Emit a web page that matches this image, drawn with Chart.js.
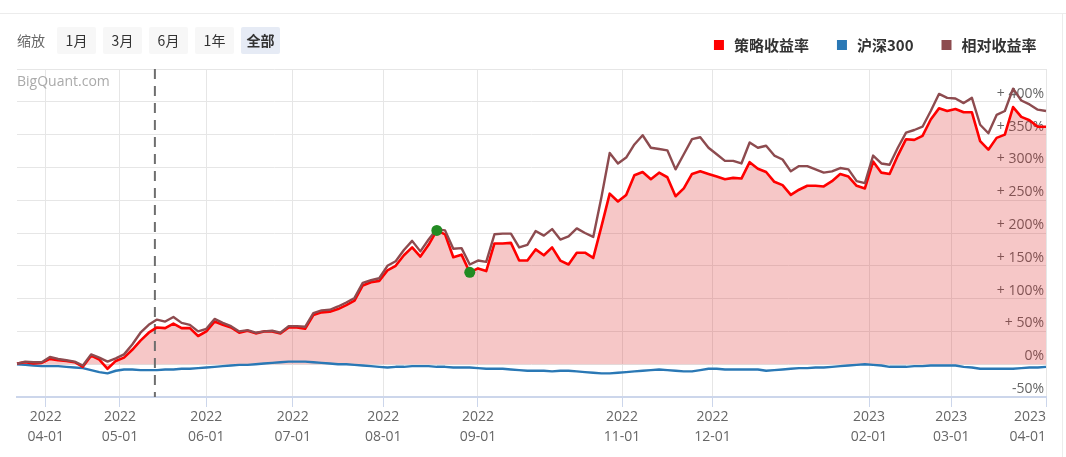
<!DOCTYPE html>
<html><head><meta charset="utf-8">
<script src="https://cdn.jsdelivr.net/npm/chart.js@4.4.1/dist/chart.umd.min.js"></script>
<style>
html,body{margin:0;padding:0;background:#fff;width:1066px;height:457px;overflow:hidden;font-family:'Noto Sans CJK SC',sans-serif;}
#wrap{position:absolute;left:0;top:0;width:1062px;height:457px;}
#topline{position:absolute;left:0;top:13px;width:1066px;height:0;border-top:1px solid #ececec;}
#rightline{position:absolute;left:1062px;top:13px;width:0;height:444px;border-left:1px solid #ececec;}
.lbl{position:absolute;left:17px;top:29px;font-size:14px;color:#666;line-height:22px;}
.btn{position:absolute;top:27px;width:39px;height:27px;line-height:27px;text-align:center;background:#f7f7f7;color:#333;font-size:14px;border-radius:2px;}
.btn.on{background:#e6ebf5;font-weight:bold;}
#wm{position:absolute;left:17px;top:72px;font-family:'Open Sans',sans-serif;font-size:14px;color:#aaa;line-height:18px;}
</style></head>
<body>
<div id="topline"></div><div id="rightline"></div>
<div id="wrap"><canvas id="c" width="1062" height="457"></canvas></div>
<div class="lbl">缩放</div>
<div class="btn" style="left:57px">1月</div>
<div class="btn" style="left:103px">3月</div>
<div class="btn" style="left:149px">6月</div>
<div class="btn" style="left:195px">1年</div>
<div class="btn on" style="left:241px">全部</div>
<div id="wm">BigQuant.com</div>
<script>
const seriesNames = ['策略收益率', '沪深300', '相对收益率'];
const dates = [
'2022-03-23','2022-03-25','2022-03-29','2022-03-31',
'2022-04-06','2022-04-08','2022-04-12','2022-04-14','2022-04-18','2022-04-20','2022-04-22','2022-04-26','2022-04-28',
'2022-05-05','2022-05-09','2022-05-11','2022-05-13','2022-05-17','2022-05-19','2022-05-23','2022-05-25','2022-05-27','2022-05-31',
'2022-06-01','2022-06-06','2022-06-08','2022-06-10','2022-06-14','2022-06-16','2022-06-20','2022-06-22','2022-06-24','2022-06-28','2022-06-30',
'2022-07-04','2022-07-06','2022-07-08','2022-07-11','2022-07-13','2022-07-15','2022-07-19','2022-07-21','2022-07-25','2022-07-27','2022-07-29',
'2022-08-02','2022-08-04','2022-08-08','2022-08-10','2022-08-12','2022-08-16','2022-08-18','2022-08-22','2022-08-24','2022-08-26','2022-08-30',
'2022-09-01','2022-09-05','2022-09-07','2022-09-09','2022-09-14','2022-09-16','2022-09-20','2022-09-22','2022-09-26','2022-09-29',
'2022-10-11','2022-10-13','2022-10-17','2022-10-19','2022-10-21','2022-10-25','2022-10-27','2022-10-31',
'2022-11-02','2022-11-04','2022-11-08','2022-11-10','2022-11-14','2022-11-16','2022-11-18','2022-11-22','2022-11-24','2022-11-28','2022-11-30',
'2022-12-02','2022-12-06','2022-12-08','2022-12-12','2022-12-14','2022-12-16','2022-12-20','2022-12-22','2022-12-26','2022-12-28','2022-12-30',
'2023-01-04','2023-01-06','2023-01-10','2023-01-12','2023-01-16','2023-01-18','2023-01-20','2023-01-31',
'2023-02-02','2023-02-06','2023-02-08','2023-02-10','2023-02-14','2023-02-16','2023-02-20','2023-02-22','2023-02-24','2023-02-28',
'2023-03-02','2023-03-06','2023-03-08','2023-03-10','2023-03-14','2023-03-16','2023-03-20','2023-03-22','2023-03-24','2023-03-28','2023-03-30',
'2023-04-03'];
// 策略收益率 (%)
const strategyReturn = [
1,3,1,2,
8,6,5,3,-4,13,7,-7,5,
10,22,36,48,56,55,62,55,55,43,
50,65,60,56,48,51,47,50,50,47,56,
56,54,75,79,80,84,90,97,120,125,127,
143,150,166,178,164,182,204,198,163,167,140,
146,142,184,184,185,158,158,175,166,178,
158,152,170,170,162,210,260,248,
258,288,293,282,292,285,256,268,290,294,290,
286,282,284,283,308,298,293,278,273,258,266,
272,272,271,279,290,286,272,268,
309,292,290,318,343,342,348,373,390,386,
389,384,384,340,327,345,350,392,377,372,362,
362];
// 沪深300 (%)
const hs300Return = [
0,-1,-2,-3,
-3,-3,-4,-5,-6,-9,-12,-14,-10,
-8,-8,-9,-9,-9,-8,-8,-7,-7,-6,
-5,-4,-3,-2,-1,-1,0,1,2,3,4,
4,4,3,2,1,0,0,-1,-2,-3,-4,
-5,-4,-4,-3,-3,-3,-4,-4,-5,-5,-5,
-6,-7,-7,-7,-8,-9,-10,-10,-10,-11,
-10,-10,-11,-12,-13,-14,-14,-13,
-12,-11,-10,-9,-8,-9,-10,-11,-11,-9,-7,
-7,-8,-8,-8,-8,-8,-10,-9,-8,-7,-6,
-6,-5,-5,-4,-3,-2,-1,0,
-1,-2,-4,-4,-4,-3,-3,-2,-2,-2,
-2,-4,-5,-7,-7,-7,-7,-7,-6,-5,-5,
-4];
// 相对收益率 (%)
const relativeReturn = [
1,4,3,3,
11,8,6,4,-2,15,10,4,9,
15,30,48,60,68,65,72,63,60,50,
54,69,63,58,50,52,48,50,51,48,58,
58,57,78,82,83,88,94,101,124,128,131,
150,157,174,188,172,190,206,204,176,177,152,
158,156,198,199,199,178,182,203,196,206,
190,195,207,200,194,255,322,306,
315,335,349,330,328,326,297,320,343,346,330,
320,310,310,306,338,330,333,318,312,294,302,
302,297,292,294,299,297,279,276,
318,306,304,330,353,357,362,386,412,406,
405,398,406,365,352,380,386,420,402,396,388,
386];
// 最大回撤起止点
const drawdownDates = ['2022-08-18', '2022-08-30'];
const drawdownValues = [204, 140];
// 基准线日期
const benchmarkStartDate = '2022-05-16';
// x 轴刻度（月初）
const xTickDates = ['2022-04-01','2022-05-01','2022-06-01','2022-07-01','2022-08-01','2022-09-01','2022-11-01','2022-12-01','2023-02-01','2023-03-01','2023-04-01'];
// y 轴范围
const yMin = -50, yMax = 450, yStep = 50;

const colors = { strategy: '#ff0000', hs300: '#2a78b5', relative: '#8d4b4f', fill: 'rgba(220,30,30,0.25)', marker: '#228b22' };

function tickPos(d) {
  const i = dates.findIndex(x => x >= d);
  if (i < 0) return dates.length - 1;
  if (i === 0 || dates[i] === d || i === dates.length - 1) return i;
  return i - 0.5;
}
function datePos(d) {
  const t = Date.parse(d);
  for (let i = 0; i < dates.length - 1; i++) {
    const a = Date.parse(dates[i]), b = Date.parse(dates[i + 1]);
    if (t >= a && t <= b) return i + (t - a) / (b - a);
  }
  return t < Date.parse(dates[0]) ? 0 : dates.length - 1;
}
const xTickPositions = [0].concat(xTickDates.map(tickPos));
const xTickLabels = [''].concat(xTickDates.map(d => [d.slice(0, 4), d.slice(5)]));

Chart.defaults.font.family = "'Open Sans', 'Noto Sans CJK SC', sans-serif";

const legendSpacer = {
  id: 'legendSpacer',
  beforeUpdate(chart) {
    const lg = chart.legend;
    if (lg && !lg._spaced) {
      const fit = lg.fit;
      lg.fit = function () { fit.call(this); this.height += 6.5; };
      lg._spaced = true;
    }
  }
};
const benchLine = {
  id: 'benchLine',
  beforeDatasetsDraw(chart) {
    const x = chart.scales.x.getPixelForValue(datePos(benchmarkStartDate));
    const { top, bottom } = chart.chartArea;
    const ctx = chart.ctx;
    ctx.save();
    ctx.setLineDash([10, 7]);
    ctx.strokeStyle = '#6e6e6e';
    ctx.lineWidth = 2;
    ctx.beginPath();
    ctx.moveTo(x, top);
    ctx.lineTo(x, bottom);
    ctx.stroke();
    ctx.restore();
  }
};

new Chart(document.getElementById('c'), {
  type: 'line',
  data: {
    labels: dates,
    datasets: [
      { label: seriesNames[0], data: strategyReturn, borderColor: colors.strategy, backgroundColor: colors.fill, fill: 'origin', borderWidth: 2.6, order: 2 },
      { label: seriesNames[1], data: hs300Return, borderColor: colors.hs300, backgroundColor: colors.hs300, fill: false, borderWidth: 2.4, order: 3 },
      { label: seriesNames[2], data: relativeReturn, borderColor: colors.relative, backgroundColor: colors.relative, fill: false, borderWidth: 2.4, order: 1 },
      { label: '', data: drawdownDates.map((d, i) => ({ x: d, y: drawdownValues[i] })), showLine: false, pointRadius: 5.5, pointBackgroundColor: colors.marker, pointBorderWidth: 0, borderColor: colors.marker, backgroundColor: colors.marker, order: 0 }
    ]
  },
  options: {
    responsive: false,
    animation: false,
    devicePixelRatio: 1,
    layout: { padding: { left: 17, right: 0, top: 12, bottom: 10 } },
    elements: { line: { tension: 0, borderJoinStyle: 'round' }, point: { radius: 0, hoverRadius: 0 } },
    plugins: {
      filler: { drawTime: 'beforeDatasetsDraw' },
      tooltip: { enabled: false },
      legend: {
        position: 'top', align: 'end',
        labels: {
          usePointStyle: true, boxWidth: 15, boxHeight: 10, padding: 25.5, color: '#333',
          font: { size: 15, weight: 'bold', family: "'Noto Sans CJK SC', sans-serif" },
          generateLabels: (chart) => chart.data.datasets
            .map((ds, i) => ({ text: ds.label, fillStyle: ds.borderColor, strokeStyle: ds.borderColor, lineWidth: 0, pointStyle: 'rect', hidden: false, datasetIndex: i, fontColor: '#333' }))
            .filter(it => it.text)
        }
      }
    },
    scales: {
      x: {
        type: 'category', offset: false,
        afterBuildTicks: (s) => { s.ticks = xTickPositions.map(v => ({ value: v })); },
        ticks: {
          autoSkip: false, maxRotation: 0, minRotation: 0, align: 'inner', padding: 0, color: '#666',
          font: { size: 14, lineHeight: 20 / 14 },
          callback: (v, i) => xTickLabels[i]
        },
        grid: {
          offset: false, tickLength: 10,
          color: (c) => c.index === 0 ? 'rgba(0,0,0,0)' : '#e6e6e6',
          tickColor: (c) => c.index === 0 ? 'rgba(0,0,0,0)' : '#ccd6eb'
        },
        border: { color: '#ccd6eb', width: 2 }
      },
      y: {
        type: 'linear', position: 'right', min: yMin, max: yMax,
        afterFit: (s) => { s.width = 16; },
        ticks: {
          stepSize: yStep, mirror: true, padding: -2, labelOffset: -8, color: '#666',
          font: { size: 14 },
          callback: (v) => v >= yMax ? '' : (v > 0 ? '+ ' + v + '%' : v + '%')
        },
        grid: { color: '#e6e6e6', drawTicks: false },
        border: { display: false }
      }
    }
  },
  plugins: [legendSpacer, benchLine]
});
</script>
</body></html>
